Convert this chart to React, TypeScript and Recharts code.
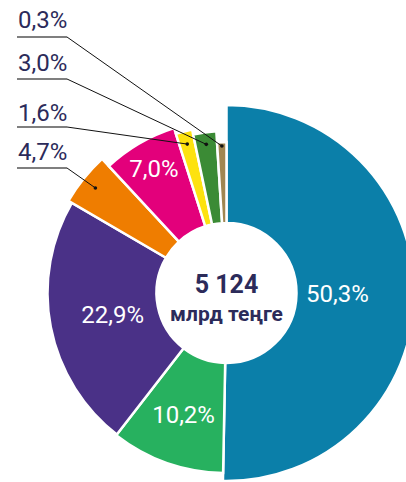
import React from 'react';
import { PieChart, Pie, Cell, Sector } from 'recharts';

const segments = ['s1', 's2', 's3', 's4', 's5', 's6', 's7', 's8'];
const shares = [50.3, 10.2, 22.9, 4.7, 7.0, 1.6, 3.0, 0.3];
const totalValue = '5 124';
const totalUnit = 'млрд теңге';

const COLORS = ['#0b7fa9', '#27b15f', '#4a3187', '#ef7d00', '#e3007b', '#fde20f', '#3b8b35', '#a08651'];
// each slice has its own outer radius in the original
const OUTER = [188, 180, 179, 183, 173, 167, 162, 151];
const INNER_LABEL_R: Record<number, number> = { 0: 111, 1: 129, 2: 116, 4: 144 };
// labels pulled out to the left column
const CALLOUTS: Record<number, { base: number; line: number; dotR: number }> = {
  7: { base: 28, line: 37, dotR: 147 },
  6: { base: 71, line: 79, dotR: 150 },
  5: { base: 121, line: 127, dotR: 154 },
  3: { base: 160, line: 168, dotR: 168 },
};

const CX = 226.5;
const CY = 293;
const TEXT = '#2c2b5a';
const FONT = 'Roboto, sans-serif';
const RADIAN = Math.PI / 180;
// tiny slices are widened a bit (taken from the slice before), so they stay visible
const MIN_SWEEP = 3.6;

const fmt = (v: number) => v.toFixed(1).replace('.', ',') + '%';

const data = segments.map((name, i) => ({ name, value: shares[i] }));
const sum = shares.reduce((a, b) => a + b, 0);
const sweeps = shares.map((v) => (v / sum) * 360);
const extra = sweeps.map((s) => Math.max(0, MIN_SWEEP - s));

// angles go clockwise, so startAngle > endAngle
const adjust = (i: number, start: number, end: number) => {
  let s = start;
  let e = end;
  if (extra[i] > 0) s = start + extra[i];
  if (i + 1 < extra.length && extra[i + 1] > 0) e = end + extra[i + 1];
  return { s, e };
};

const renderShape = (props: any) => {
  const { s, e } = adjust(props.index, props.startAngle, props.endAngle);
  return <Sector {...props} startAngle={s} endAngle={e} outerRadius={OUTER[props.index]} />;
};

const renderLabel = (props: any) => {
  const { cx, cy, index, value, startAngle, endAngle } = props;
  const { s, e } = adjust(index, startAngle, endAngle);
  const mid = (s + e) / 2;
  const cos = Math.cos(-mid * RADIAN);
  const sin = Math.sin(-mid * RADIAN);
  if (INNER_LABEL_R[index] !== undefined) {
    const r = INNER_LABEL_R[index];
    return (
      <text
        x={cx + r * cos}
        y={cy + r * sin}
        fill="#fff"
        fontSize={24}
        fontFamily={FONT}
        textAnchor="middle"
        dominantBaseline="central"
      >
        {fmt(value)}
      </text>
    );
  }
  const c = CALLOUTS[index];
  if (!c) return null;
  const dx = cx + c.dotR * cos;
  const dy = cy + c.dotR * sin;
  return (
    <g>
      <text x={18} y={c.base} fill={TEXT} fontSize={24} fontFamily={FONT}>
        {fmt(value)}
      </text>
      <line x1={17} y1={c.line} x2={67} y2={c.line} stroke="#555" strokeWidth={1.5} />
      <line x1={67} y1={c.line} x2={dx} y2={dy} stroke="#111" strokeWidth={1} />
      <circle cx={dx} cy={dy} r={1.8} fill="#111" />
    </g>
  );
};

export default function App() {
  return (
    <div style={{ width: 406, height: 482, background: '#fff' }}>
      <style>{'body{margin:0}'}</style>
      <PieChart width={406} height={482} margin={{ top: 0, right: 0, bottom: 0, left: 0 }}>
        <Pie
          data={data}
          dataKey="value"
          nameKey="name"
          cx={CX}
          cy={CY}
          innerRadius={70}
          outerRadius={188}
          startAngle={90}
          endAngle={-270}
          stroke="#fff"
          strokeWidth={2.5}
          shape={renderShape}
          label={renderLabel}
          labelLine={false}
          isAnimationActive={false}
        >
          {data.map((d, i) => (
            <Cell key={d.name} fill={COLORS[i]} />
          ))}
        </Pie>
        <text x={CX} y={CY - 9} fill={TEXT} fontSize={25} fontWeight="bold" fontFamily={FONT} textAnchor="middle" dominantBaseline="central">
          {totalValue}
        </text>
        <text x={CX} y={CY + 21} fill={TEXT} fontSize={21} fontWeight="bold" fontFamily={FONT} textAnchor="middle" dominantBaseline="central">
          {totalUnit}
        </text>
      </PieChart>
    </div>
  );
}
